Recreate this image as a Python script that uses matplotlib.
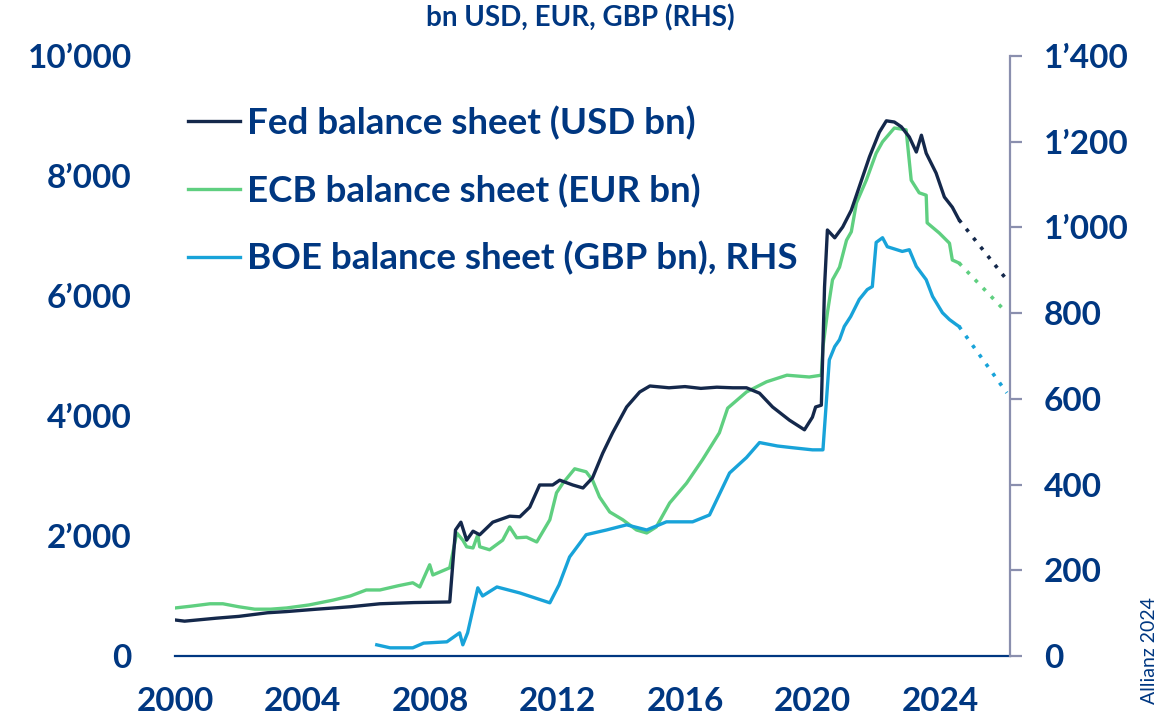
import matplotlib
matplotlib.use("Agg")
import matplotlib.pyplot as plt
from matplotlib.ticker import FixedLocator

plt.rcParams['font.family'] = ['Lato', 'DejaVu Sans']

# --- data ---
fed_x = [2000.0, 2000.3, 2001.3, 2002.0, 2002.9, 2003.5, 2004.45, 2005.5, 2006.43, 2007.5,
         2008.62, 2008.8, 2008.97, 2009.15, 2009.35, 2009.56, 2009.97, 2010.5, 2010.82, 2011.13,
         2011.44, 2011.85, 2012.07, 2012.48, 2012.8, 2013.1, 2013.42, 2013.73, 2014.17, 2014.58,
         2014.9, 2015.5, 2016.0, 2016.5, 2017.0, 2017.5, 2017.93, 2018.34, 2018.75, 2019.28,
         2019.75, 2020.0, 2020.1, 2020.28, 2020.38, 2020.47, 2020.7, 2020.95, 2021.22, 2021.47,
         2021.79, 2022.1, 2022.32, 2022.57, 2022.79, 2023.04, 2023.26, 2023.42, 2023.57, 2023.88,
         2024.14, 2024.39, 2024.6]
fed_y = [600, 580, 630, 660, 720, 740, 780, 820, 870, 890,
         900, 2100, 2230, 1930, 2080, 2020, 2230, 2330, 2320, 2480,
         2850, 2850, 2930, 2850, 2800, 2970, 3380, 3720, 4150, 4400,
         4500, 4470, 4490, 4460, 4480, 4470, 4470, 4380, 4150, 3930,
         3770, 3980, 4150, 4180, 6150, 7100, 6970, 7150, 7430, 7820,
         8320, 8730, 8920, 8900, 8820, 8650, 8400, 8680, 8380, 8050,
         7650, 7480, 7270]

ecb_x = [2000.0, 2000.5, 2001.1, 2001.5, 2002.0, 2002.5, 2003.0, 2003.5, 2004.2, 2004.95,
         2005.5, 2006.0, 2006.43, 2007.0, 2007.46, 2007.68, 2007.99, 2008.09, 2008.62, 2008.84,
         2009.03, 2009.15, 2009.35, 2009.5, 2009.56, 2009.87, 2010.28, 2010.5, 2010.72, 2011.03,
         2011.35, 2011.76, 2011.97, 2012.17, 2012.54, 2012.9, 2013.1, 2013.32, 2013.64, 2014.05,
         2014.48, 2014.8, 2015.1, 2015.52, 2016.05, 2016.55, 2017.08, 2017.34, 2017.93, 2018.56,
         2019.2, 2019.9, 2020.28, 2020.33, 2020.47, 2020.63, 2020.85, 2021.07, 2021.22, 2021.38,
         2021.69, 2022.0, 2022.2, 2022.57, 2022.94, 2023.1, 2023.35, 2023.57, 2023.6, 2023.98,
         2024.3, 2024.39, 2024.6]
ecb_y = [800, 830, 870, 870, 820, 780, 780, 800, 850, 930,
         1000, 1100, 1100, 1170, 1220, 1150, 1520, 1350, 1470, 2050,
         1930, 1820, 1800, 2020, 1820, 1770, 1930, 2150, 1970, 1980,
         1900, 2270, 2720, 2880, 3120, 3070, 2930, 2650, 2400, 2270,
         2100, 2050, 2150, 2550, 2880, 3270, 3720, 4130, 4400, 4570,
         4680, 4650, 4680, 5150, 5720, 6270, 6480, 6930, 7070, 7550,
         7930, 8380, 8570, 8800, 8770, 7930, 7720, 7680, 7220, 7050,
         6880, 6600, 6550]

boe_x = [2006.33, 2006.75, 2007.46, 2007.8, 2008.53, 2008.93, 2009.03, 2009.18, 2009.5, 2009.65,
         2010.1, 2010.82, 2011.76, 2012.05, 2012.38, 2012.9, 2013.54, 2014.17, 2014.8, 2015.42,
         2016.24, 2016.77, 2017.4, 2017.93, 2018.34, 2018.9, 2019.37, 2020.0, 2020.33, 2020.53,
         2020.7, 2020.85, 2021.0, 2021.2, 2021.47, 2021.72, 2021.88, 2022.0, 2022.2, 2022.35,
         2022.82, 2023.04, 2023.26, 2023.57, 2023.77, 2024.08, 2024.3, 2024.52, 2024.6]
boe_y = [26, 19, 19, 30, 33, 54, 26, 54, 159, 140,
         161, 147, 124, 166, 231, 283, 294, 306, 294, 313,
         313, 329, 427, 463, 498, 490, 486, 481, 481, 691,
         722, 738, 769, 792, 832, 855, 862, 965, 976, 955,
         944, 948, 909, 878, 839, 801, 785, 773, 769]

# projections (dotted)
proj_x = [2024.6, 2026.1]
fed_proj = [7270, 6270]
ecb_proj = [6550, 5720]
boe_proj = [769, 614]

left_ticks = [0, 2000, 4000, 6000, 8000, 10000]
left_labels = ["0", "2\u2019000", "4\u2019000", "6\u2019000", "8\u2019000", "10\u2019000"]
right_ticks = [0, 200, 400, 600, 800, 1000, 1200, 1400]
right_labels = ["0", "200", "400", "600", "800", "1\u2019000", "1\u2019200", "1\u2019400"]
year_ticks = [2000, 2004, 2008, 2012, 2016, 2020, 2024]

# --- style ---
txt = '#003781'
c_fed = '#14284b'
c_ecb = '#5fcf80'
c_boe = '#18a3d9'
lw = 2.4
fw = 'bold'

fig = plt.figure(figsize=(11.6, 7.21), dpi=100)
ax = fig.add_axes([0.1509, 0.0902, 0.7198, 0.8321])
ax2 = ax.twinx()

ax.plot(fed_x, fed_y, color=c_fed, lw=lw, label='Fed balance sheet (USD bn)', zorder=3)
ax.plot(ecb_x, ecb_y, color=c_ecb, lw=lw, label='ECB balance sheet (EUR bn)', zorder=2)
ax.plot(proj_x, fed_proj, color=c_fed, lw=2.6, ls=(0, (1, 2.2)))
ax.plot(proj_x, ecb_proj, color=c_ecb, lw=2.6, ls=(0, (1, 2.2)))
ax2.plot(boe_x, boe_y, color=c_boe, lw=lw, label='BOE balance sheet (GBP bn), RHS')
ax2.plot(proj_x, boe_proj, color=c_boe, lw=2.6, ls=(0, (1, 2.2)))

ax.set_xlim(2000, 2026.2)
ax.set_ylim(0, 10000)
ax2.set_ylim(0, 1400)

ax.xaxis.set_major_locator(FixedLocator(year_ticks))
ax.set_xticklabels([str(y) for y in year_ticks])
ax.set_yticks(left_ticks)
ax.set_yticklabels(left_labels)
ax2.set_yticks(right_ticks)
ax2.set_yticklabels(right_labels)

for a in (ax, ax2):
    for s in a.spines.values():
        s.set_visible(False)
ax.spines['bottom'].set_visible(True)
ax.spines['bottom'].set_color(txt)
ax.spines['bottom'].set_linewidth(1.6)
ax2.spines['right'].set_visible(True)
ax2.spines['right'].set_color('#8a8fae')
ax2.spines['right'].set_linewidth(1.6)

ax.tick_params(axis='x', length=0, pad=22, labelsize=24, labelcolor=txt)
ax.tick_params(axis='y', length=0, pad=31, labelsize=24, labelcolor=txt)
ax2.tick_params(axis='y', length=8.5, width=1.6, color='#8a8fae', pad=16, labelsize=24, labelcolor=txt)
for lab in ax.get_xticklabels() + ax.get_yticklabels() + ax2.get_yticklabels():
    lab.set_fontweight(fw)

fig.text(0.5, 0.975, 'bn USD, EUR, GBP (RHS)', ha='center', va='center',
         fontsize=20, color=txt, fontweight=fw)
fig.text(0.991, 0.098, 'Allianz 2024', rotation=90, ha='center', va='center',
         fontsize=14, color=txt)

h1, l1 = ax.get_legend_handles_labels()
h2, l2 = ax2.get_legend_handles_labels()
leg = ax.legend(h1 + h2, l1 + l2, loc='upper left', bbox_to_anchor=(0.162, 0.853),
                bbox_transform=fig.transFigure, frameon=False, fontsize=26.5,
                handlelength=1.42, handletextpad=0.18, labelspacing=0.9,
                borderpad=0, borderaxespad=0)
for t in leg.get_texts():
    t.set_color(txt)
    t.set_fontweight(fw)
leg.set_zorder(5)

fig.savefig('out.png', dpi=100)
